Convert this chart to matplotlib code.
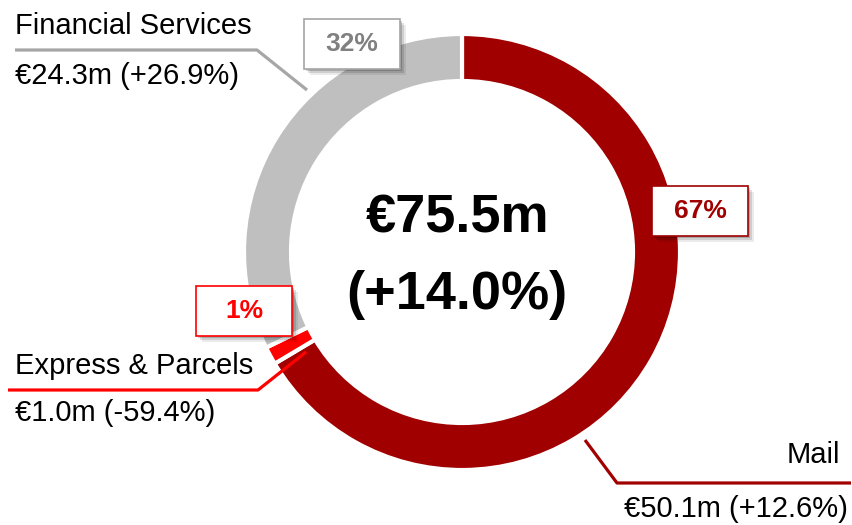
import matplotlib.pyplot as plt
from matplotlib.patches import Rectangle

plt.rcParams['font.family'] = ['Liberation Sans', 'DejaVu Sans']

# --- data ---
segments = ['Mail', 'Express & Parcels', 'Financial Services']
values = [50.1, 1.0, 24.3]
shares = ['67%', '1%', '32%']
details = ['€50.1m (+12.6%)', '€1.0m (-59.4%)', '€24.3m (+26.9%)']
total_label = ['€75.5m', '(+14.0%)']
colors = ['#a00000', '#ff0000', '#bfbfbf']
H = 525

fig = plt.figure(figsize=(8.53, 5.25), dpi=100)
ax = fig.add_axes([0, 0, 1, 1])

# donut, drawn in pixel-like coordinates (y flipped)
cx, cy, r_out = 462, H - 252, 218
ax.pie(values, colors=colors, startangle=90, counterclock=False,
       center=(cx, cy), radius=r_out,
       wedgeprops=dict(width=47, edgecolor='white', linewidth=3))

ax.text(cx - 4, H - 218, total_label[0], ha='center', va='center',
        fontsize=39, fontweight='bold')
ax.text(cx - 5, H - 295, total_label[1], ha='center', va='center',
        fontsize=39, fontweight='bold')

# leader lines
ax.plot([15, 257, 307], [H - 50, H - 50, H - 90], color='#a6a6a6', lw=2.3,
        solid_capstyle='butt')
ax.plot([8, 258, 306], [H - 390, H - 390, H - 352], color='#ff0000', lw=2.3,
        solid_capstyle='butt')
ax.plot([585, 617, 851], [H - 440, H - 483, H - 483], color='#a00000', lw=2.3,
        solid_capstyle='butt')

# segment labels
fs = 21
ax.text(15, H - 26, segments[2], ha='left', va='center', fontsize=fs)
ax.text(15, H - 76, details[2], ha='left', va='center', fontsize=fs)
ax.text(15, H - 366, segments[1], ha='left', va='center', fontsize=fs)
ax.text(15, H - 413, details[1], ha='left', va='center', fontsize=fs)
ax.text(840, H - 455, segments[0], ha='right', va='center', fontsize=fs)
ax.text(848, H - 509, details[0], ha='right', va='center', fontsize=fs)

# percentage boxes with a soft shadow
boxes = [(700, 211, '#a00000', '#a00000'),
         (244, 311, '#ff0000', '#ff0000'),
         (352, 44, '#a6a6a6', '#808080')]
for (bx, by, edge, tc), share in zip(boxes, shares):
    w, h = 96, 50
    for k, a in [(6, 0.08), (4, 0.12), (2, 0.18)]:
        ax.add_patch(Rectangle((bx - w / 2 + k, H - by - h / 2 - k), w, h,
                               facecolor='black', alpha=a, lw=0, zorder=4))
    ax.add_patch(Rectangle((bx - w / 2, H - by - h / 2), w, h,
                           facecolor='white', edgecolor=edge, lw=1.2, zorder=5))
    ax.text(bx, H - by, share, ha='center', va='center', fontsize=19,
            fontweight='bold', color=tc, zorder=6)

ax.set_xlim(0, 853)
ax.set_ylim(0, H)
ax.set_aspect('equal')
ax.axis('off')

fig.savefig('out.png', dpi=100)
